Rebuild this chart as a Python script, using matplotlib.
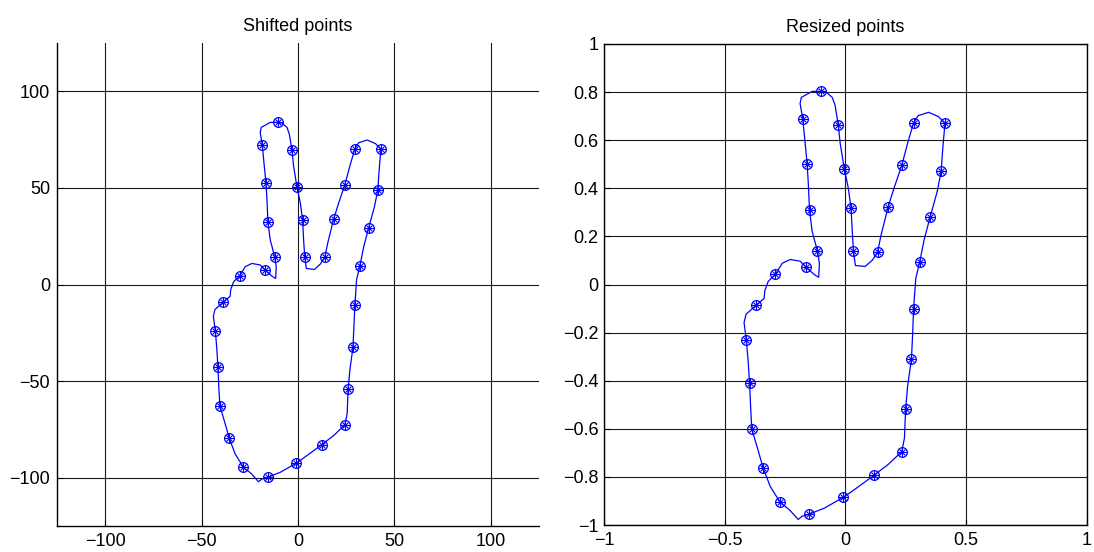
import matplotlib
matplotlib.use("Agg")
import matplotlib.pyplot as plt

plt.rcParams['font.family'] = ['Liberation Sans', 'DejaVu Sans']

# ---- Shifted points (contour) ----
shift_x = [-10.6, -14.4, -19.1, -19.6, -18.5, -17.5, -16.6, -16.1, -15.6, -14.4,
           -12.1, -11.3, -11.6, -13.5, -17.0, -19.6, -23.9, -27.4, -30.3, -33.4,
           -34.9, -35.2, -38.7, -43.1, -43.9, -42.9, -42.2, -41.5, -41.1, -40.5,
           -37.8, -35.6, -32.6, -28.3, -24.0, -20.5, -18.8, -15.8, -9.2, -0.9,
           4.7, 12.2, 18.6, 24.3, 25.5, 26.0, 26.9, 28.5, 29.0, 29.5,
           30.4, 32.1, 34.1, 36.7, 39.7, 41.4, 42.1, 43.0, 40.2, 35.9,
           31.5, 29.5, 26.9, 24.3, 21.1, 18.5, 15.4, 13.9, 11.6, 8.5,
           4.3, 3.5, 2.9, 2.4, 1.2, -0.5, -2.3, -3.1, -4.5, -5.7,
           -8.3, -10.6]
shift_y = [83.9, 83.9, 81.3, 78.6, 72.0, 61.3, 52.6, 43.9, 32.3, 23.1,
           14.4, 9.2, 3.1, 4.3, 7.5, 10.1, 10.9, 9.2, 4.5, 1.4,
           -2.6, -6.1, -9.0, -13.0, -16.5, -24.0, -32.1, -42.9, -53.0, -62.8,
           -72.0, -79.7, -87.7, -94.6, -98.1, -102.1, -100.7, -99.8, -97.2, -92.5,
           -88.5, -83.0, -78.1, -72.6, -66.8, -54.2, -44.3, -32.5, -21.7, -10.4,
           2.6, 9.7, 19.6, 29.5, 40.5, 49.1, 59.5, 70.0, 72.9, 74.8,
           73.4, 70.3, 61.3, 51.7, 42.2, 33.9, 21.4, 14.1, 10.6, 7.8,
           8.3, 14.4, 23.1, 33.2, 42.2, 50.3, 61.3, 69.4, 77.8, 81.3,
           83.5, 83.9]

# ---- Shifted points (sampled markers) ----
shift_mx = [-10.6, -18.5, -16.6, -15.6, -12.1, -17.0, -30.3, -38.7, -42.9, -41.5,
            -40.5, -35.6, -28.3, -15.8, -0.9, 12.2, 24.3, 26.0, 28.5, 29.5,
            32.1, 36.7, 41.4, 43.0, 29.5, 24.3, 18.5, 13.9, 3.5, 2.4,
            -0.5, -3.1]
shift_my = [83.9, 72.0, 52.6, 32.3, 14.4, 7.5, 4.5, -9.0, -24.0, -42.9,
            -62.8, -79.7, -94.6, -99.8, -92.5, -83.0, -72.6, -54.2, -32.5, -10.4,
            9.7, 29.5, 49.1, 70.0, 70.3, 51.7, 33.9, 14.1, 14.4, 33.2,
            50.3, 69.4]

# ---- Resized points (contour) ----
res_x = [-0.101, -0.138, -0.183, -0.188, -0.177, -0.167, -0.159, -0.154, -0.149, -0.138,
         -0.116, -0.108, -0.111, -0.129, -0.163, -0.188, -0.229, -0.262, -0.290, -0.320,
         -0.334, -0.337, -0.370, -0.412, -0.420, -0.411, -0.404, -0.397, -0.393, -0.388,
         -0.362, -0.341, -0.312, -0.271, -0.230, -0.196, -0.180, -0.151, -0.088, -0.009,
         0.045, 0.117, 0.178, 0.233, 0.244, 0.249, 0.257, 0.273, 0.278, 0.282,
         0.291, 0.307, 0.326, 0.351, 0.380, 0.396, 0.403, 0.412, 0.385, 0.344,
         0.301, 0.282, 0.257, 0.233, 0.202, 0.177, 0.147, 0.133, 0.111, 0.081,
         0.041, 0.033, 0.028, 0.023, 0.011, -0.005, -0.022, -0.030, -0.043, -0.055,
         -0.079, -0.101]
res_y = [0.803, 0.803, 0.778, 0.752, 0.689, 0.587, 0.503, 0.420, 0.309, 0.221,
         0.138, 0.088, 0.030, 0.041, 0.072, 0.097, 0.104, 0.088, 0.043, 0.013,
         -0.025, -0.058, -0.086, -0.124, -0.158, -0.230, -0.307, -0.411, -0.507, -0.601,
         -0.689, -0.763, -0.839, -0.905, -0.939, -0.977, -0.964, -0.955, -0.930, -0.885,
         -0.847, -0.794, -0.747, -0.695, -0.639, -0.519, -0.424, -0.311, -0.208, -0.100,
         0.025, 0.093, 0.188, 0.282, 0.388, 0.470, 0.569, 0.670, 0.698, 0.716,
         0.702, 0.673, 0.587, 0.495, 0.404, 0.324, 0.205, 0.135, 0.101, 0.075,
         0.079, 0.138, 0.221, 0.318, 0.404, 0.481, 0.587, 0.664, 0.745, 0.778,
         0.799, 0.803]

# ---- Resized points (sampled markers) ----
res_mx = [-0.101, -0.177, -0.159, -0.149, -0.116, -0.163, -0.290, -0.370, -0.411, -0.397,
          -0.388, -0.341, -0.271, -0.151, -0.009, 0.117, 0.233, 0.249, 0.273, 0.282,
          0.307, 0.351, 0.396, 0.412, 0.282, 0.233, 0.177, 0.133, 0.033, 0.023,
          -0.005, -0.030]
res_my = [0.803, 0.689, 0.503, 0.309, 0.138, 0.072, 0.043, -0.086, -0.230, -0.411,
          -0.601, -0.763, -0.905, -0.955, -0.885, -0.794, -0.695, -0.519, -0.311, -0.100,
          0.093, 0.282, 0.470, 0.670, 0.673, 0.495, 0.324, 0.135, 0.138, 0.318,
          0.481, 0.664]

left_ticks = [-100, -50, 0, 50, 100]
right_xticks = [-1, -0.5, 0, 0.5, 1]
right_yticks = [-1, -0.8, -0.6, -0.4, -0.2, 0, 0.2, 0.4, 0.6, 0.8, 1]

def fmt(v):
    s = ('%g' % v)
    return s.replace('-', '\u2212')

fig = plt.figure(figsize=(10.94, 5.52), dpi=100)
ax1 = fig.add_axes([0.0521, 0.0471, 0.4406, 0.875])
ax2 = fig.add_axes([0.5521, 0.0489, 0.4415, 0.8714])

BLUE = '#0000ff'
FS = 13

def draw(ax, cx, cy, mx, my):
    ax.plot(cx, cy, color=BLUE, lw=0.9, zorder=3)
    ax.plot(mx, my, ls='none', marker='o', ms=7, mfc='none', mec=BLUE, mew=0.9, zorder=4)
    ax.plot(mx, my, ls='none', marker='+', ms=6.5, mec=BLUE, mew=0.8, zorder=4)
    ax.plot(mx, my, ls='none', marker='x', ms=4.8, mec=BLUE, mew=0.8, zorder=4)
    ax.grid(True, color='#1a1a1a', lw=0.8)
    ax.set_axisbelow(True)
    ax.tick_params(direction='in', length=4, width=0.8, labelsize=FS, pad=5, colors='black')
    for s in ax.spines.values():
        s.set_linewidth(1.0)
        s.set_color('black')

draw(ax1, shift_x, shift_y, shift_mx, shift_my)
ax1.set_xlim(-125, 125)
ax1.set_ylim(-125, 125)
ax1.set_xticks(left_ticks)
ax1.set_yticks(left_ticks)
ax1.set_xticklabels([fmt(v) for v in left_ticks])
ax1.set_yticklabels([fmt(v) for v in left_ticks])
ax1.spines['top'].set_visible(False)
ax1.spines['right'].set_visible(False)
ax1.set_title('Shifted points', fontsize=FS, pad=8.5)

draw(ax2, res_x, res_y, res_mx, res_my)
ax2.set_xlim(-1, 1)
ax2.set_ylim(-1, 1)
ax2.set_xticks(right_xticks)
ax2.set_yticks(right_yticks)
ax2.set_xticklabels([fmt(v) for v in right_xticks])
ax2.set_yticklabels([fmt(v) for v in right_yticks])
ax2.tick_params(axis='y', pad=4)
ax2.set_title('Resized points', fontsize=FS, pad=8.5)

fig.savefig('out.png', dpi=100)
